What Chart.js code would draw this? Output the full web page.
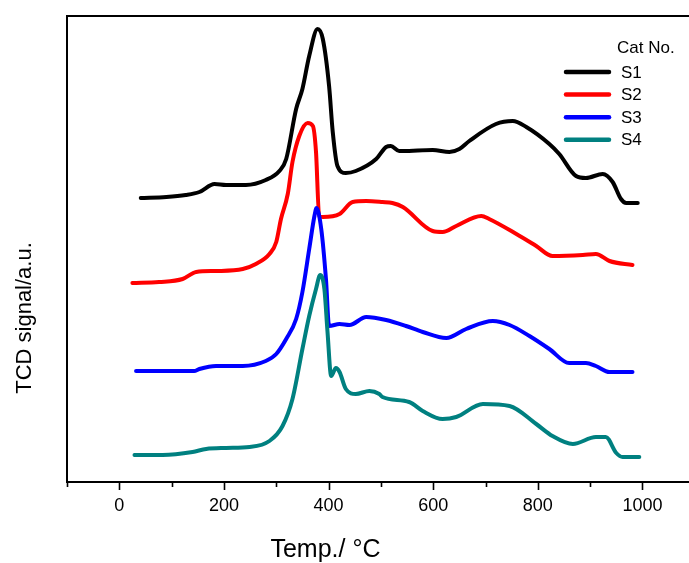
<!DOCTYPE html>
<html>
<head>
<meta charset="utf-8">
<script src="https://cdn.jsdelivr.net/npm/chart.js@4/dist/chart.umd.min.js"></script>
<style>
  html, body { margin: 0; padding: 0; background: #fff; overflow: hidden; }
  #c { display: block; }
</style>
</head>
<body>
<canvas id="c" width="689" height="563"></canvas>
<script>
// ---- data (temperature in °C, TCD signal in arbitrary units) ----
const seriesNames = ["S1", "S2", "S3", "S4"];
const legendTitle = "Cat No.";
const xTitle = "Temp./ °C";
const yTitle = "TCD signal/a.u.";
const xTickLabels = [0, 200, 400, 600, 800, 1000];

const s1Temp   = [41, 90, 127, 153, 182, 204, 242, 280, 306, 319, 338, 350, 363, 379, 389, 401, 408, 417, 433, 452, 491, 510, 519, 535, 542, 599, 631, 650, 669, 720, 752, 778, 822, 841, 873, 892, 924, 943, 959, 969, 991];
const s1Signal = [284, 285, 287, 290, 298, 297, 297, 302, 311, 323, 373, 393, 426, 453, 443, 396, 350, 316, 309, 311, 323, 335, 336, 331, 331, 332, 330, 333, 341, 358, 361, 355, 338, 328, 306, 304, 308, 300, 283, 279, 279];

const s2Temp   = [25, 76, 121, 147, 185, 236, 261, 287, 300, 309, 322, 331, 344, 360, 370, 376, 382, 389, 421, 446, 472, 503, 522, 542, 599, 618, 644, 692, 707, 759, 797, 828, 886, 911, 937, 981];
const s2Signal = [199, 200, 203, 210, 211, 213, 218, 228, 240, 263, 288, 320, 346, 359, 356, 330, 266, 265, 268, 280, 281, 280, 279, 275, 251, 250, 256, 266, 263, 248, 236, 226, 227, 228, 221, 217];

const s3Temp   = [32, 143, 153, 185, 236, 280, 300, 319, 338, 350, 363, 373, 377, 386, 395, 401, 421, 440, 472, 510, 548, 580, 625, 663, 714, 746, 784, 822, 860, 892, 911, 937, 981];
const s3Signal = [111, 111, 113, 116, 116, 121, 128, 143, 163, 190, 233, 266, 274, 253, 203, 156, 158, 157, 165, 162, 156, 150, 144, 153, 161, 157, 146, 133, 119, 119, 116, 110, 110];

const s4Temp   = [29, 83, 140, 166, 204, 249, 287, 312, 331, 350, 363, 376, 384, 392, 398, 405, 414, 421, 433, 452, 478, 497, 503, 554, 580, 618, 644, 695, 746, 797, 828, 867, 911, 930, 950, 962, 994];
const s4Signal = [27, 27, 30, 33, 34, 35, 41, 56, 83, 133, 166, 193, 207, 193, 150, 106, 114, 110, 93, 88, 91, 88, 85, 80, 71, 63, 65, 78, 76, 58, 46, 38, 45, 45, 29, 25, 25];

const seriesColors = ["#000000", "#ff0000", "#0000ff", "#008080"];

// ---- build datasets ----
const temps = [s1Temp, s2Temp, s3Temp, s4Temp];
const signals = [s1Signal, s2Signal, s3Signal, s4Signal];
const datasets = seriesNames.map((name, i) => ({
  label: name,
  data: temps[i].map((t, k) => ({ x: t, y: signals[i][k] })),
  borderColor: seriesColors[i],
  backgroundColor: seriesColors[i],
  borderWidth: 4,
  pointRadius: 0,
  fill: false,
  cubicInterpolationMode: 'monotone',
  borderCapStyle: 'round',
  borderJoinStyle: 'round',
  order: seriesNames.length - i
}));

const FONT = "'Liberation Sans', Arial, sans-serif";

const decorPlugin = {
  id: 'decor',
  afterDraw(chart) {
    const { ctx, chartArea, scales } = chart;
    ctx.save();
    // top frame line
    ctx.strokeStyle = '#000';
    ctx.lineWidth = 2;
    ctx.beginPath();
    ctx.moveTo(chartArea.left - 1, chartArea.top);
    ctx.lineTo(chartArea.right + 2, chartArea.top);
    ctx.stroke();
    // x tick marks: major (labelled) longer, minor shorter
    const xs = scales.x;
    ctx.lineWidth = 1.6;
    xs.ticks.forEach(t => {
      const px = Math.round(xs.getPixelForValue(t.value)) + 0.5;
      const len = xTickLabels.includes(t.value) ? 8 : 5;
      ctx.beginPath();
      ctx.moveTo(px, chartArea.bottom);
      ctx.lineTo(px, chartArea.bottom + len);
      ctx.stroke();
    });
    // axis titles
    ctx.fillStyle = '#000';
    ctx.font = '25px ' + FONT;
    ctx.textAlign = 'center';
    ctx.textBaseline = 'alphabetic';
    ctx.fillText(xTitle, xs.getPixelForValue(394), 557);
    ctx.save();
    ctx.translate(31, 318);
    ctx.rotate(-Math.PI / 2);
    ctx.font = '22px ' + FONT;
    ctx.fillText(yTitle, 0, 0);
    ctx.restore();
    // legend
    ctx.font = '17px ' + FONT;
    ctx.textAlign = 'left';
    ctx.fillText(legendTitle, 617, 53);
    chart.data.datasets.forEach((ds, i) => {
      const yc = 72 + i * 22.6;
      ctx.strokeStyle = ds.borderColor;
      ctx.lineWidth = 4.5;
      ctx.lineCap = 'round';
      ctx.beginPath();
      ctx.moveTo(566, yc);
      ctx.lineTo(609, yc);
      ctx.stroke();
      ctx.fillStyle = '#000';
      ctx.fillText(ds.label, 621, yc + 5.5);
    });
    ctx.restore();
  }
};

new Chart(document.getElementById('c'), {
  type: 'line',
  data: { datasets },
  options: {
    responsive: false,
    animation: false,
    devicePixelRatio: 1,
    layout: { padding: { top: 16, right: 0, bottom: 0, left: 0 } },
    plugins: { legend: { display: false }, tooltip: { enabled: false } },
    scales: {
      x: {
        type: 'linear',
        min: -100,
        max: 1089,
        afterFit(scale) { scale.height = 81; },
        border: { display: true, color: '#000', width: 2 },
        grid: {
          display: true,
          drawOnChartArea: false,
          drawTicks: true,
          tickLength: 9,
          tickColor: 'rgba(0,0,0,0)'
        },
        ticks: {
          stepSize: 100,
          includeBounds: false,
          autoSkip: false,
          maxRotation: 0,
          padding: 4,
          color: '#000',
          font: { family: FONT, size: 18 },
          callback: (v) => xTickLabels.includes(v) ? String(v) : ''
        }
      },
      y: {
        type: 'linear',
        min: 0,
        max: 466,
        afterFit(scale) { scale.width = 67; },
        border: { display: true, color: '#000', width: 2 },
        grid: { display: false },
        ticks: { display: false }
      }
    }
  },
  plugins: [decorPlugin]
});
</script>
</body>
</html>
